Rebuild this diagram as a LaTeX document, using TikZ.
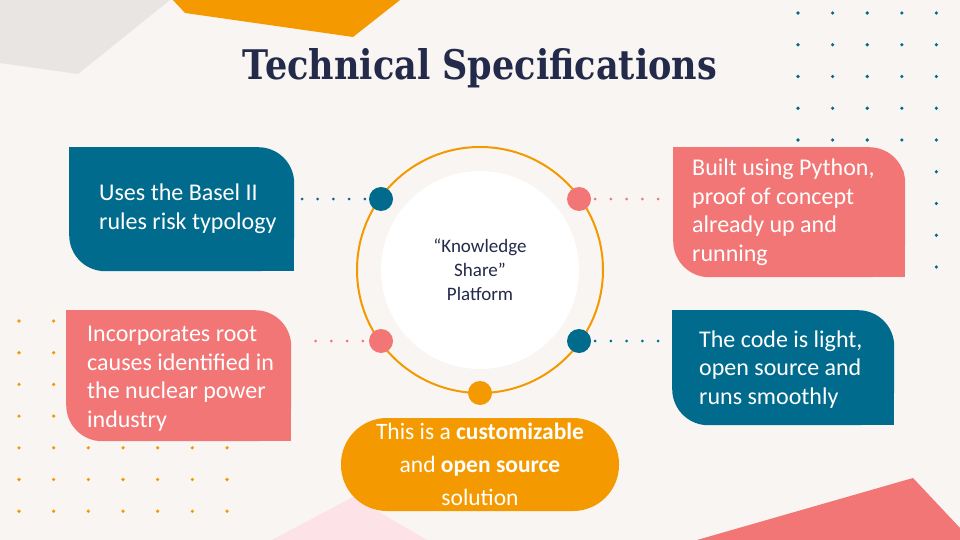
\documentclass[tikz,border=0pt]{standalone}
\usepackage{fontspec}
\setmainfont{Carlito}
\newfontfamily\titlefont{DejaVu Serif}
\definecolor{bgc}{RGB}{248,245,242}
\definecolor{grayc}{RGB}{233,229,226}
\definecolor{tealc}{RGB}{0,107,140}
\definecolor{pinkc}{RGB}{242,118,118}
\definecolor{orangec}{RGB}{245,153,0}
\definecolor{navyc}{RGB}{35,42,74}
\definecolor{lpinkc}{RGB}{253,226,232}
\tikzset{
  card/.style={rectangle, rounded corners=36pt, inner sep=0pt, anchor=north west},
  cardtext/.style={anchor=west, align=left, text=white, inner sep=0pt,
    font=\fontsize{24}{28.5}\selectfont},
  ringdot/.style={circle, minimum size=24pt, inner sep=0pt},
  link/.style={line width=3pt, line cap=round, dash pattern=on 0pt off 15.7pt},
}
\begin{document}
\begin{tikzpicture}[x=1pt,y=-1pt]
\useasboundingbox (0,0) rectangle (960,540);
\fill[bgc] (0,0) rectangle (960,540);
% background shapes
\fill[grayc] (0,0) -- (170,0) -- (78,74) -- (0,63) -- cycle;
\fill[orangec] (173,0) -- (400,0) -- (353,37) -- (185,13) -- cycle;
\fill[pinkc] (697,540) -- (913,478) -- (960,528) -- (960,540) -- cycle;
\fill[lpinkc] (272,540) -- (353,497) -- (427,540) -- cycle;
% dot grids
\foreach \i in {0,...,4} \foreach \j in {0,...,8}
  \fill[tealc] (798+34.6*\i, 13+31.75*\j) circle (1.8);
\foreach \i in {0,...,6} \foreach \j in {0,...,6}
  \fill[orangec] (19+34.67*\i, 321+31.7*\j) circle (1.8);
% title
\node[text=navyc, inner sep=0pt, anchor=base] (title) at (480,80)
  {\resizebox{474pt}{31pt}{\titlefont\bfseries Technical Specifications}};
% cards
\node[card, fill=tealc, minimum width=225pt, minimum height=124pt] (b1) at (69,147) {};
\fill[tealc] (b1.north west) rectangle ++(40,40);
\fill[tealc] (b1.south east) rectangle ++(-40,-40);
\node[cardtext] (t1) at (99,208.5) {Uses the Basel II\\rules risk typology};

\node[card, fill=pinkc, minimum width=232pt, minimum height=130pt] (b2) at (673,147) {};
\fill[pinkc] (b2.north west) rectangle ++(40,40);
\fill[pinkc] (b2.south east) rectangle ++(-40,-40);
\node[cardtext] (t2) at (692,212) {Built using Python,\\proof of concept\\already up and\\running};

\node[card, fill=pinkc, minimum width=225pt, minimum height=131pt] (b3) at (66,310) {};
\fill[pinkc] (b3.north west) rectangle ++(40,40);
\fill[pinkc] (b3.south east) rectangle ++(-40,-40);
\node[cardtext] (t3) at (87,378.5) {Incorporates root\\causes identified in\\the nuclear power\\industry};

\node[card, fill=tealc, minimum width=222pt, minimum height=115pt] (b4) at (672,310) {};
\fill[tealc] (b4.north west) rectangle ++(40,40);
\fill[tealc] (b4.south east) rectangle ++(-40,-40);
\node[cardtext] (t4) at (699,369.5) {The code is light,\\open source and\\runs smoothly};

% pill
\node[rectangle, rounded corners=46pt, fill=orangec, minimum width=278pt, minimum height=93pt,
  text=white, align=center, inner sep=0pt, font=\fontsize{23.5}{33}\selectfont] (pill) at (480,464.5)
  {This is a \textbf{customizable}\\and \textbf{open source}\\solution};

% ring
\draw[orangec, line width=2pt] (480,270) circle (123);
\node[circle, fill=white, minimum size=198pt, inner sep=0pt] (hub) at (480,270) {};
\node[text=navyc, align=center, inner sep=0pt, font=\fontsize{19}{24}\selectfont] (hubtext) at (480,270)
  {“Knowledge\\Share”\\Platform};
\node[ringdot, fill=tealc] (d1) at (381,199) {};
\node[ringdot, fill=pinkc] (d2) at (579,199) {};
\node[ringdot, fill=pinkc] (d3) at (381,341) {};
\node[ringdot, fill=tealc] (d4) at (579,341) {};
\node[ringdot, fill=orangec] (d5) at (480,393) {};

% dotted links
\draw[link, tealc] ([xshift=-4pt]d1.west) -- ([xshift=7pt]d1.west -| b1.east);
\draw[link, pinkc] ([xshift=4pt]d2.east) -- ([xshift=-13pt]d2.east -| b2.west);
\draw[link, pinkc] ([xshift=-6pt]d3.west) -- ([xshift=10pt]d3.west -| b3.east);
\draw[link, tealc] ([xshift=4pt]d4.east) -- ([xshift=-13pt]d4.east -| b4.west);
\end{tikzpicture}
\end{document}
